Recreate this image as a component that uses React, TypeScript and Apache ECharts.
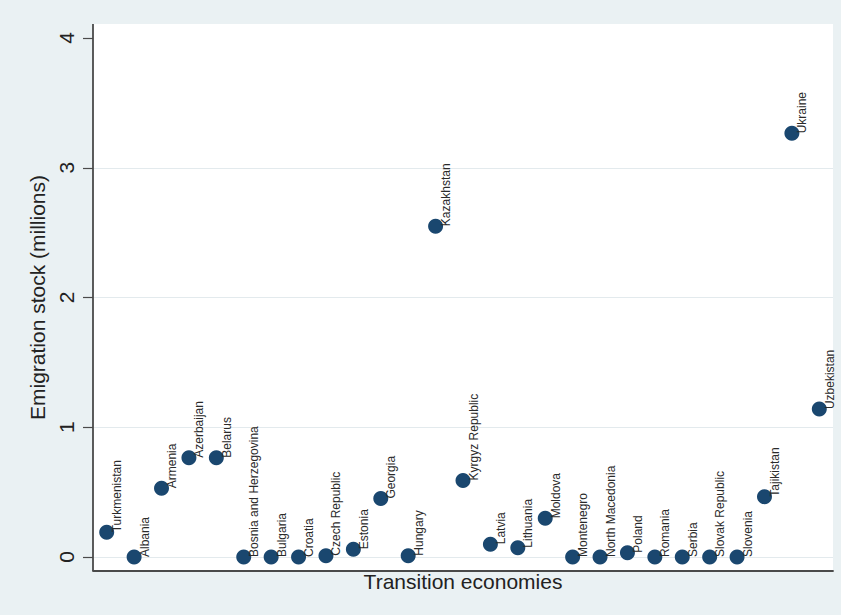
import React, { useEffect, useRef } from "react";
import * as echarts from "echarts";

const countries = [
  "Turkmenistan", "Albania", "Armenia", "Azerbaijan", "Belarus",
  "Bosnia and Herzegovina", "Bulgaria", "Croatia", "Czech Republic", "Estonia",
  "Georgia", "Hungary", "Kazakhstan", "Kyrgyz Republic", "Latvia",
  "Lithuania", "Moldova", "Montenegro", "North Macedonia", "Poland",
  "Romania", "Serbia", "Slovak Republic", "Slovenia", "Tajikistan",
  "Ukraine", "Uzbekistan",
];
const stocks = [
  0.19, 0.0, 0.53, 0.765, 0.765,
  0.0, 0.0, 0.0, 0.01, 0.06,
  0.45, 0.01, 2.55, 0.59, 0.098,
  0.072, 0.298, 0.0, 0.0, 0.033,
  0.0, 0.0, 0.0, 0.0, 0.465,
  3.265, 1.14,
];
const yTicks = [0, 1, 2, 3, 4];
const gridLineValues = [0, 1, 2, 3];

const FONT = "'Liberation Sans', Arial, Helvetica, sans-serif";

export default function App() {
  const ref = useRef<HTMLDivElement>(null);
  useEffect(() => {
    if (!ref.current) return;
    const chart = echarts.init(ref.current, undefined, { renderer: "svg" });
    const data = countries.map((c, i) => [i + 1, stocks[i], c]);
    chart.setOption({
      animation: false,
      backgroundColor: "#eaf1f3",
      textStyle: { fontFamily: FONT },
      grid: { left: 93, right: 8, top: 38, bottom: 58 },
      graphic: [
        {
          type: "rect",
          z: -100,
          shape: { x: 93, y: 24, width: 740, height: 547 },
          style: { fill: "#ffffff" },
        },
        {
          type: "line",
          z: 100,
          shape: { x1: 93, y1: 24, x2: 93, y2: 571 },
          style: { stroke: "#4a4a4a", lineWidth: 1.8 },
        },
      ],
      xAxis: {
        type: "value",
        min: 0.5,
        max: 27.5,
        offset: 14,
        name: "Transition economies",
        nameLocation: "middle",
        nameGap: 0,
        nameTextStyle: { fontSize: 21, color: "#222", fontFamily: FONT, verticalAlign: "top" },
        axisLine: { show: true, onZero: false, lineStyle: { color: "#4a4a4a", width: 1.8 } },
        axisTick: { show: false },
        axisLabel: { show: false },
        splitLine: { show: false },
      },
      yAxis: {
        type: "value",
        min: 0,
        max: 4,
        interval: 1,
        name: "Emigration stock (millions)",
        nameLocation: "middle",
        nameGap: 40,
        nameRotate: 90,
        nameTextStyle: { fontSize: 21, color: "#222", fontFamily: FONT },
        axisLine: { show: false, onZero: false },
        axisTick: { show: true, length: 10, lineStyle: { color: "#4a4a4a", width: 1.2 } },
        axisLabel: {
          rotate: 90,
          fontSize: 21,
          color: "#222",
          margin: 16,
          fontFamily: FONT,
          formatter: (v: number) => (yTicks.includes(v) ? String(v) : ""),
        },
        splitLine: { show: false },
      },
      series: [
        {
          type: "scatter",
          data,
          symbol: "circle",
          symbolSize: 15,
          itemStyle: { color: "#1a476f", opacity: 1 },
          label: {
            show: true,
            position: "right",
            distance: 3,
            rotate: 90,
            fontSize: 12,
            color: "#2a2a2a",
            fontFamily: FONT,
            formatter: (p: any) => p.data[2],
          },
          markLine: {
            silent: true,
            symbol: "none",
            label: { show: false },
            z: 0,
            lineStyle: { color: "#e3eaed", width: 1, type: "solid" },
            data: gridLineValues.map((v) => ({ yAxis: v })),
          },
        },
      ],
    });
    return () => chart.dispose();
  }, []);
  return (
    <div
      ref={ref}
      style={{ position: "fixed", left: 0, top: 0, width: 841, height: 615 }}
    />
  );
}
